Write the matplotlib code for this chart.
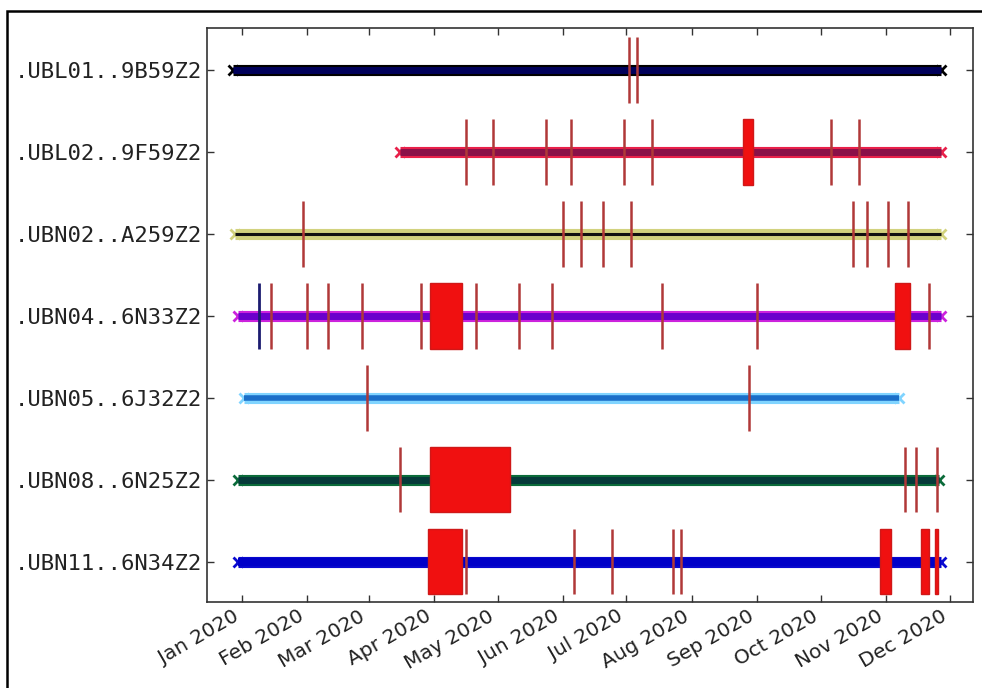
import matplotlib
matplotlib.use("Agg")
import matplotlib.pyplot as plt
import matplotlib.dates as mdates
from matplotlib.patches import Rectangle

# station ids, top to bottom
stations = [".UBL01..9B59Z2", ".UBL02..9F59Z2", ".UBN02..A259Z2", ".UBN04..6N33Z2",
            ".UBN05..6J32Z2", ".UBN08..6N25Z2", ".UBN11..6N34Z2"]

# first / last sample of each trace
data_start = ["2019-12-28", "2020-03-16", "2019-12-29", "2019-12-30",
              "2020-01-02", "2019-12-30", "2019-12-30"]
data_end = ["2020-11-27", "2020-11-27", "2020-11-27", "2020-11-27",
            "2020-11-07", "2020-11-26", "2020-11-27"]

# gaps per station (start, end) - same value means a short gap
gaps_ubl01 = [("2020-07-02", "2020-07-02"), ("2020-07-06", "2020-07-06")]
gaps_ubl02 = [("2020-04-16", "2020-04-16"), ("2020-04-29", "2020-04-29"),
              ("2020-05-24", "2020-05-24"), ("2020-06-05", "2020-06-05"),
              ("2020-06-30", "2020-06-30"), ("2020-07-13", "2020-07-13"),
              ("2020-08-25", "2020-08-30"), ("2020-10-06", "2020-10-06"),
              ("2020-10-19", "2020-10-19")]
gaps_ubn02 = [("2020-01-30", "2020-01-30"), ("2020-06-01", "2020-06-01"),
              ("2020-06-09 12:00", "2020-06-09 12:00"), ("2020-06-20", "2020-06-20"),
              ("2020-07-03", "2020-07-03"), ("2020-10-16", "2020-10-16"),
              ("2020-10-23", "2020-10-23"), ("2020-11-02", "2020-11-02"),
              ("2020-11-11", "2020-11-11")]
gaps_ubn04 = [("2020-01-15", "2020-01-15"), ("2020-02-01", "2020-02-01"),
              ("2020-02-11", "2020-02-11"), ("2020-02-27", "2020-02-27"),
              ("2020-03-26", "2020-03-26"), ("2020-03-30", "2020-04-14"),
              ("2020-04-21", "2020-04-21"), ("2020-05-11", "2020-05-11"),
              ("2020-05-27", "2020-05-27"), ("2020-07-18", "2020-07-18"),
              ("2020-09-01", "2020-09-01"), ("2020-11-05", "2020-11-12"),
              ("2020-11-21", "2020-11-21")]
gaps_ubn05 = [("2020-02-29", "2020-02-29"), ("2020-08-28", "2020-08-28")]
gaps_ubn08 = [("2020-03-16", "2020-03-16"), ("2020-03-30", "2020-05-07"),
              ("2020-11-10", "2020-11-10"), ("2020-11-15", "2020-11-15"),
              ("2020-11-25", "2020-11-25")]
gaps_ubn11 = [("2020-03-29", "2020-04-14"), ("2020-04-16", "2020-04-16"),
              ("2020-06-06", "2020-06-06"), ("2020-06-24", "2020-06-24"),
              ("2020-07-23", "2020-07-23"), ("2020-07-27", "2020-07-27"),
              ("2020-10-29", "2020-11-03"), ("2020-11-17 12:00", "2020-11-21"),
              ("2020-11-24", "2020-11-25 12:00")]
all_gaps = [gaps_ubl01, gaps_ubl02, gaps_ubn02, gaps_ubn04, gaps_ubn05, gaps_ubn08, gaps_ubn11]

# overlap marker on UBN04
overlaps_ubn04 = ["2020-01-09"]

outer_colors = ["#000000", "#e8204a", "#d2d27e", "#cc22dd", "#80d4ff", "#0b6b3a", "#0a0ad0"]
inner_colors = ["#00005a", "#8a1048", "#111111", "#6a00cc", "#1a6ec8", "#063a3a", "#0000c8"]
inner_widths = [5, 5, 2.2, 5, 4, 5, 6]

fig = plt.figure(figsize=(9.82, 6.88), dpi=100)
ax = fig.add_axes([0.2111, 0.1254, 0.7794, 0.8335])

for i in range(len(stations)):
    t0 = mdates.datestr2num(data_start[i])
    t1 = mdates.datestr2num(data_end[i])
    ax.plot([t0, t1], [i, i], color=outer_colors[i], lw=8, solid_capstyle="butt", zorder=2,
            marker="x", ms=7, mew=2, mec=outer_colors[i])
    ax.plot([t0, t1], [i, i], color=inner_colors[i], lw=inner_widths[i],
            solid_capstyle="butt", zorder=2.1)
    for g0, g1 in all_gaps[i]:
        s = mdates.datestr2num(g0)
        e = mdates.datestr2num(g1)
        if e - s < 1:
            ax.vlines((s + e) / 2, i - 0.4, i + 0.4, color="#b03838", lw=1.8, zorder=3)
        else:
            ax.add_patch(Rectangle((s, i - 0.4), e - s, 0.8, facecolor="#f01010",
                                   edgecolor="#d01818", lw=1, zorder=3))

for d in overlaps_ubn04:
    ax.vlines(mdates.datestr2num(d), 3 - 0.4, 3 + 0.4, color="#1c1c70", lw=2, zorder=3)

ax.set_xlim(mdates.datestr2num("2019-12-15 16:00"), mdates.datestr2num("2020-12-11 20:00"))
ax.set_ylim(6.49, -0.51)
ax.set_yticks(range(len(stations)))
ax.set_yticklabels(stations, family="DejaVu Sans Mono", fontsize=16, color="#222222")

ax.xaxis.set_major_locator(mdates.MonthLocator())
ax.xaxis.set_major_formatter(mdates.DateFormatter("%b %Y"))
plt.setp(ax.get_xticklabels(), rotation=30, ha="right", fontsize=14.5, color="#222222")

ax.tick_params(direction="in", length=5, width=1, top=True, right=True, color="#333333")
for sp in ax.spines.values():
    sp.set_color("#333333")
    sp.set_linewidth(1.2)

# border around the screenshot
fig.patches.append(Rectangle((7 / 982, -0.05), 1.2, 1 - 11 / 688 + 0.05, fill=False,
                             edgecolor="black", lw=1.8, transform=fig.transFigure))

fig.savefig("out.png", dpi=100)
